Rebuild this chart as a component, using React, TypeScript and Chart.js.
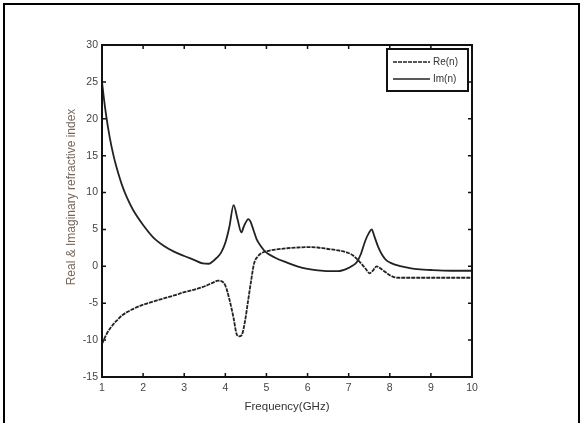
import React, { useEffect, useRef } from "react";
import { Chart, registerables } from "chart.js";

Chart.register(...registerables);

// Re(n): frequency (GHz) and values
const reFreq = [1.0, 1.1, 1.2, 1.35, 1.5, 1.75, 2.0, 2.2, 2.5, 2.75, 3.0, 3.25, 3.5, 3.7, 3.82, 3.9, 4.0, 4.1, 4.2, 4.27, 4.33, 4.4, 4.48, 4.55, 4.62, 4.7, 4.8, 4.9, 5.0, 5.25, 5.5, 5.75, 6.0, 6.25, 6.5, 6.75, 6.95, 7.1, 7.2, 7.3, 7.38, 7.45, 7.51, 7.6, 7.68, 7.75, 7.85, 8.0, 8.1, 8.2, 8.5, 9.0, 9.5, 10.0];
const reValues = [-10.5, -9.3, -8.4, -7.4, -6.6, -5.8, -5.2, -4.85, -4.35, -3.95, -3.5, -3.15, -2.7, -2.2, -1.95, -2.0, -2.6, -4.5, -7.0, -9.1, -9.5, -9.3, -7.4, -4.8, -2.2, 0.4, 1.4, 1.85, 2.05, 2.3, 2.45, 2.55, 2.6, 2.55, 2.35, 2.15, 1.9, 1.5, 1.0, 0.4, -0.1, -0.6, -0.95, -0.5, 0.0, -0.2, -0.6, -1.2, -1.45, -1.55, -1.55, -1.55, -1.55, -1.55];

// Im(n): frequency (GHz) and values
const imFreq = [1.0, 1.05, 1.1, 1.19, 1.28, 1.35, 1.44, 1.5, 1.6, 1.75, 2.0, 2.25, 2.5, 2.75, 3.0, 3.25, 3.45, 3.6, 3.7, 3.8, 3.9, 4.0, 4.1, 4.2, 4.3, 4.39, 4.45, 4.56, 4.61, 4.68, 4.76, 4.87, 4.97, 5.2, 5.5, 5.75, 6.0, 6.25, 6.5, 6.75, 6.95, 7.1, 7.2, 7.3, 7.4, 7.5, 7.56, 7.63, 7.72, 7.82, 7.92, 8.05, 8.17, 8.4, 8.6, 9.0, 9.5, 10.0];
const imValues = [25.0, 22.6, 20.5, 17.4, 15.0, 13.5, 11.8, 10.8, 9.4, 7.7, 5.6, 3.9, 2.8, 2.0, 1.4, 0.85, 0.4, 0.35, 0.7, 1.2, 1.9, 3.2, 5.4, 8.3, 6.3, 4.6, 5.4, 6.4, 6.1, 5.0, 3.7, 2.7, 2.0, 1.2, 0.5, 0.0, -0.35, -0.55, -0.65, -0.65, -0.35, 0.1, 0.6, 1.7, 3.4, 4.6, 5.0, 4.0, 2.6, 1.5, 0.8, 0.4, 0.15, -0.15, -0.35, -0.5, -0.6, -0.6];

const seriesLabels = ["Re(n)", "Im(n)"];
const xTitle = "Frequency(GHz)";
const yTitle = "Real & Imaginary refractive index";

const framePlugin = {
  id: "matlabFrame",
  afterDraw(chart: any) {
    const { ctx, chartArea: a, scales } = chart;
    ctx.save();
    // outer figure frame
    ctx.strokeStyle = "#000";
    ctx.lineWidth = 2;
    ctx.strokeRect(4, 4, 575, 440);

    // axes box
    ctx.lineWidth = 2;
    ctx.strokeStyle = "#111";
    ctx.strokeRect(a.left, a.top, a.right - a.left, a.bottom - a.top);

    // inner ticks
    ctx.lineWidth = 1.5;
    const tl = 4;
    const xs = scales.x;
    const ys = scales.y;
    xs.ticks.forEach((t: any) => {
      const px = xs.getPixelForValue(t.value);
      ctx.beginPath();
      ctx.moveTo(px, a.bottom);
      ctx.lineTo(px, a.bottom - tl);
      ctx.moveTo(px, a.top);
      ctx.lineTo(px, a.top + tl);
      ctx.stroke();
    });
    ys.ticks.forEach((t: any) => {
      const py = ys.getPixelForValue(t.value);
      ctx.beginPath();
      ctx.moveTo(a.left, py);
      ctx.lineTo(a.left + tl, py);
      ctx.moveTo(a.right, py);
      ctx.lineTo(a.right - tl, py);
      ctx.stroke();
    });

    // y axis title
    ctx.save();
    ctx.translate(72, 197);
    ctx.rotate(-Math.PI / 2);
    ctx.fillStyle = "#7a6658";
    ctx.font = "12px 'Liberation Sans', Arial, sans-serif";
    ctx.textAlign = "center";
    ctx.textBaseline = "middle";
    ctx.fillText(yTitle, 0, 0);
    ctx.restore();

    // legend
    const lx = 387, ly = 49, lw = 81, lh = 42;
    ctx.fillStyle = "#fff";
    ctx.fillRect(lx, ly, lw, lh);
    ctx.lineWidth = 2;
    ctx.strokeStyle = "#111";
    ctx.strokeRect(lx, ly, lw, lh);
    chart.data.datasets.forEach((ds: any, i: number) => {
      const yy = ly + 13 + i * 17;
      ctx.beginPath();
      ctx.setLineDash(ds.borderDash || []);
      ctx.lineWidth = 1.5;
      ctx.strokeStyle = ds.borderColor;
      ctx.moveTo(lx + 6, yy);
      ctx.lineTo(lx + 43, yy);
      ctx.stroke();
      ctx.setLineDash([]);
      ctx.fillStyle = "#333";
      ctx.font = "10px 'Liberation Sans', Arial, sans-serif";
      ctx.textAlign = "left";
      ctx.textBaseline = "middle";
      ctx.fillText(ds.label, lx + 46, yy);
    });
    ctx.restore();
  },
};

export default function App() {
  const ref = useRef<HTMLCanvasElement | null>(null);

  useEffect(() => {
    if (!ref.current) return;
    const chart = new Chart(ref.current, {
      type: "line",
      data: {
        datasets: [
          {
            label: seriesLabels[0],
            data: reFreq.map((f, i) => ({ x: f, y: reValues[i] })),
            borderColor: "#222",
            borderWidth: 1.8,
            borderDash: [4, 1],
            pointRadius: 0,
            cubicInterpolationMode: "monotone",
            fill: false,
          },
          {
            label: seriesLabels[1],
            data: imFreq.map((f, i) => ({ x: f, y: imValues[i] })),
            borderColor: "#222",
            borderWidth: 1.8,
            pointRadius: 0,
            cubicInterpolationMode: "monotone",
            fill: false,
          },
        ],
      },
      options: {
        animation: false,
        responsive: false,
        maintainAspectRatio: false,
        layout: { padding: { top: 45, right: 112, left: 0, bottom: 0 } },
        plugins: {
          legend: { display: false },
          tooltip: { enabled: false },
        },
        scales: {
          x: {
            type: "linear",
            min: 1,
            max: 10,
            grid: { display: false, drawTicks: false },
            border: { display: false },
            ticks: {
              stepSize: 1,
              padding: 5,
              color: "#444",
              font: { size: 10.5, family: "'Liberation Sans', Arial, sans-serif" },
              maxRotation: 0,
            },
            title: {
              display: true,
              text: xTitle,
              color: "#333",
              font: { size: 11.5, family: "'Liberation Sans', Arial, sans-serif" },
              padding: { top: 0, bottom: 9 },
            },
            afterFit(scale: any) {
              scale.height = 46;
            },
          },
          y: {
            type: "linear",
            min: -15,
            max: 30,
            grid: { display: false, drawTicks: false },
            border: { display: false },
            ticks: {
              stepSize: 5,
              padding: 4,
              color: "#444",
              font: { size: 10.5, family: "'Liberation Sans', Arial, sans-serif" },
            },
            afterFit(scale: any) {
              scale.width = 102;
            },
          },
        },
      } as any,
      plugins: [framePlugin],
    });
    return () => chart.destroy();
  }, []);

  return (
    <div style={{ position: "fixed", left: 0, top: 0, width: 584, height: 423, background: "#fff" }}>
      <canvas ref={ref} width={584} height={423} style={{ display: "block" }} />
    </div>
  );
}
